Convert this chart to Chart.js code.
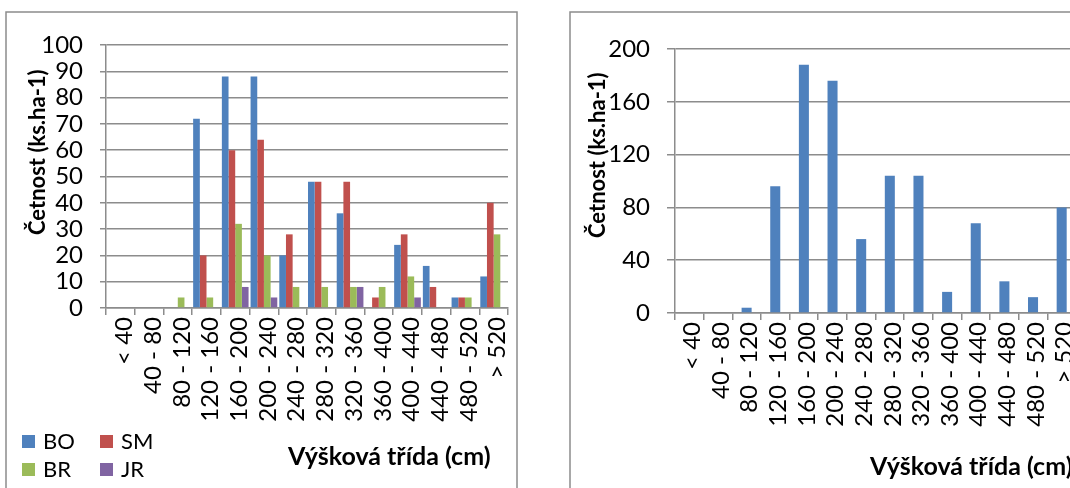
<!DOCTYPE html>
<html lang="cs">
<head>
<meta charset="utf-8">
<title>Četnost podle výškových tříd</title>
<script src="https://cdn.jsdelivr.net/npm/chart.js@4.4.1/dist/chart.umd.min.js"></script>
<style>
  html, body { margin: 0; padding: 0; background: #fff; }
  body { width: 1070px; height: 488px; overflow: hidden; position: relative; }
  canvas { position: absolute; top: 0; }
  #left { left: 0; }
  #right { left: 545px; }
</style>
</head>
<body>
<canvas id="left" width="545" height="488"></canvas>
<canvas id="right" width="560" height="488"></canvas>
<script>
// Height classes (cm)
const categories = ['< 40', '40 - 80', '80 - 120', '120 - 160', '160 - 200', '200 - 240', '240 - 280',
  '280 - 320', '320 - 360', '360 - 400', '400 - 440', '440 - 480', '480 - 520', '> 520'];

// Frequency per species (ks.ha-1)
const seriesNames = ['BO', 'SM', 'BR', 'JR'];
const boValues = [0, 0, 0, 72, 88, 88, 20, 48, 36, 0, 24, 16, 4, 12];
const smValues = [0, 0, 0, 20, 60, 64, 28, 48, 48, 4, 28, 8, 4, 40];
const brValues = [0, 0, 4, 4, 32, 20, 8, 8, 8, 8, 12, 0, 4, 28];
const jrValues = [0, 0, 0, 0, 8, 4, 0, 0, 8, 0, 4, 0, 0, 0];

// All species together
const totalValues = [0, 0, 4, 96, 188, 176, 56, 104, 104, 16, 68, 24, 12, 80];

// Value axis ticks
const leftTicks = [0, 10, 20, 30, 40, 50, 60, 70, 80, 90, 100];
const rightTicks = [0, 40, 80, 120, 160, 200];

const seriesColors = ['#4F81BD', '#C0504D', '#9BBB59', '#8064A2'];
const GRID = '#8c8c8c';
const FONT = 'Lato, "Open Sans", sans-serif';
const TICK_SIZE = 24;

// Frame, axis titles and a two-column legend
const decor = {
  id: 'decor',
  beforeDraw(chart, args, o) {
    const ctx = chart.ctx;
    ctx.save();
    ctx.fillStyle = '#fff';
    ctx.fillRect(0, 0, chart.width, chart.height);
    ctx.strokeStyle = GRID;
    ctx.lineWidth = 1.5;
    ctx.strokeRect(o.frame.x, o.frame.y, o.frame.w, o.frame.h);
    ctx.restore();
  },
  afterDraw(chart, args, o) {
    const ctx = chart.ctx;
    ctx.save();
    ctx.fillStyle = '#000';
    ctx.textBaseline = 'alphabetic';
    ctx.textAlign = 'left';
    ctx.font = 'bold ' + o.xTitle.size + 'px ' + FONT;
    ctx.fillText(o.xTitle.text, o.xTitle.x, o.xTitle.y);

    ctx.translate(o.yTitle.x, o.yTitle.y);
    ctx.rotate(-Math.PI / 2);
    ctx.font = 'bold ' + o.yTitle.size + 'px ' + FONT;
    ctx.fillText(o.yTitle.text, 0, 0);
    ctx.setTransform(1, 0, 0, 1, 0, 0);

    if (o.legend) {
      const L = o.legend;
      ctx.font = L.size + 'px ' + FONT;
      chart.data.datasets.forEach((ds, i) => {
        const col = i % 2, row = Math.floor(i / 2);
        const x = L.x + col * L.colGap, y = L.y + row * L.rowGap;
        ctx.fillStyle = ds.backgroundColor;
        ctx.fillRect(x, y, L.box, L.box);
        ctx.fillStyle = '#000';
        ctx.fillText(ds.label, x + L.textDx, y + L.textDy);
      });
    }
    ctx.restore();
  }
};

function valueAxis(ticks, width, tickLen, pad) {
  return {
    min: ticks[0],
    max: ticks[ticks.length - 1],
    afterBuildTicks(s) { s.ticks = ticks.map(v => ({ value: v })); },
    afterFit(s) { s.width = width; },
    ticks: { color: '#000', font: { family: FONT, size: TICK_SIZE, lineHeight: 1 }, padding: pad, autoSkip: false },
    grid: { color: GRID, lineWidth: 1.5, tickLength: tickLen },
    border: { color: GRID, width: 1.5 }
  };
}

function categoryAxis(height, labelOffset) {
  return {
    afterFit(s) { s.height = height; },
    ticks: {
      color: '#000', font: { family: FONT, size: TICK_SIZE, lineHeight: 1 }, autoSkip: false,
      minRotation: 90, maxRotation: 90, padding: 2, labelOffset: labelOffset
    },
    grid: { drawOnChartArea: false, color: GRID, lineWidth: 1.5, tickLength: 7 },
    border: { color: GRID, width: 1.5 }
  };
}

const base = { responsive: false, animation: false, devicePixelRatio: 1 };

new Chart(document.getElementById('left'), {
  type: 'bar',
  data: {
    labels: categories,
    datasets: [boValues, smValues, brValues, jrValues].map((vals, i) => ({
      label: seriesNames[i],
      data: vals,
      backgroundColor: seriesColors[i],
      borderWidth: 0,
      categoryPercentage: 0.93,
      barPercentage: 1.0
    }))
  },
  options: Object.assign({}, base, {
    layout: { padding: { left: 0, right: 37, top: 45, bottom: 0 } },
    scales: { x: categoryAxis(180, 4), y: valueAxis(leftTicks, 106, 6, 17) },
    plugins: {
      legend: { display: false },
      tooltip: { enabled: false },
      decor: {
        frame: { x: 6, y: 12, w: 511, h: 520 },
        xTitle: { text: 'Výšková třída (cm)', x: 288, y: 465, size: 25 },
        yTitle: { text: 'Četnost (ks.ha-1)', x: 45, y: 235, size: 22 },
        legend: { x: 22, y: 435, colGap: 78, rowGap: 28, box: 13, textDx: 21, textDy: 14, size: 22 }
      }
    }
  }),
  plugins: [decor]
});

new Chart(document.getElementById('right'), {
  type: 'bar',
  data: {
    labels: categories,
    datasets: [{
      label: 'Celkem',
      data: totalValues,
      backgroundColor: seriesColors[0],
      borderWidth: 0,
      categoryPercentage: 0.35,
      barPercentage: 1.0
    }]
  },
  options: Object.assign({}, base, {
    layout: { padding: { left: 0, right: 29, top: 49, bottom: 0 } },
    scales: { x: categoryAxis(175, 3), y: valueAxis(rightTicks, 130, 8, 17) },
    plugins: {
      legend: { display: false },
      tooltip: { enabled: false },
      decor: {
        frame: { x: 25, y: 12, w: 600, h: 520 },
        xTitle: { text: 'Výšková třída (cm)', x: 325, y: 475, size: 25 },
        yTitle: { text: 'Četnost (ks.ha-1)', x: 60, y: 238, size: 22 }
      }
    }
  }),
  plugins: [decor]
});
</script>
</body>
</html>
